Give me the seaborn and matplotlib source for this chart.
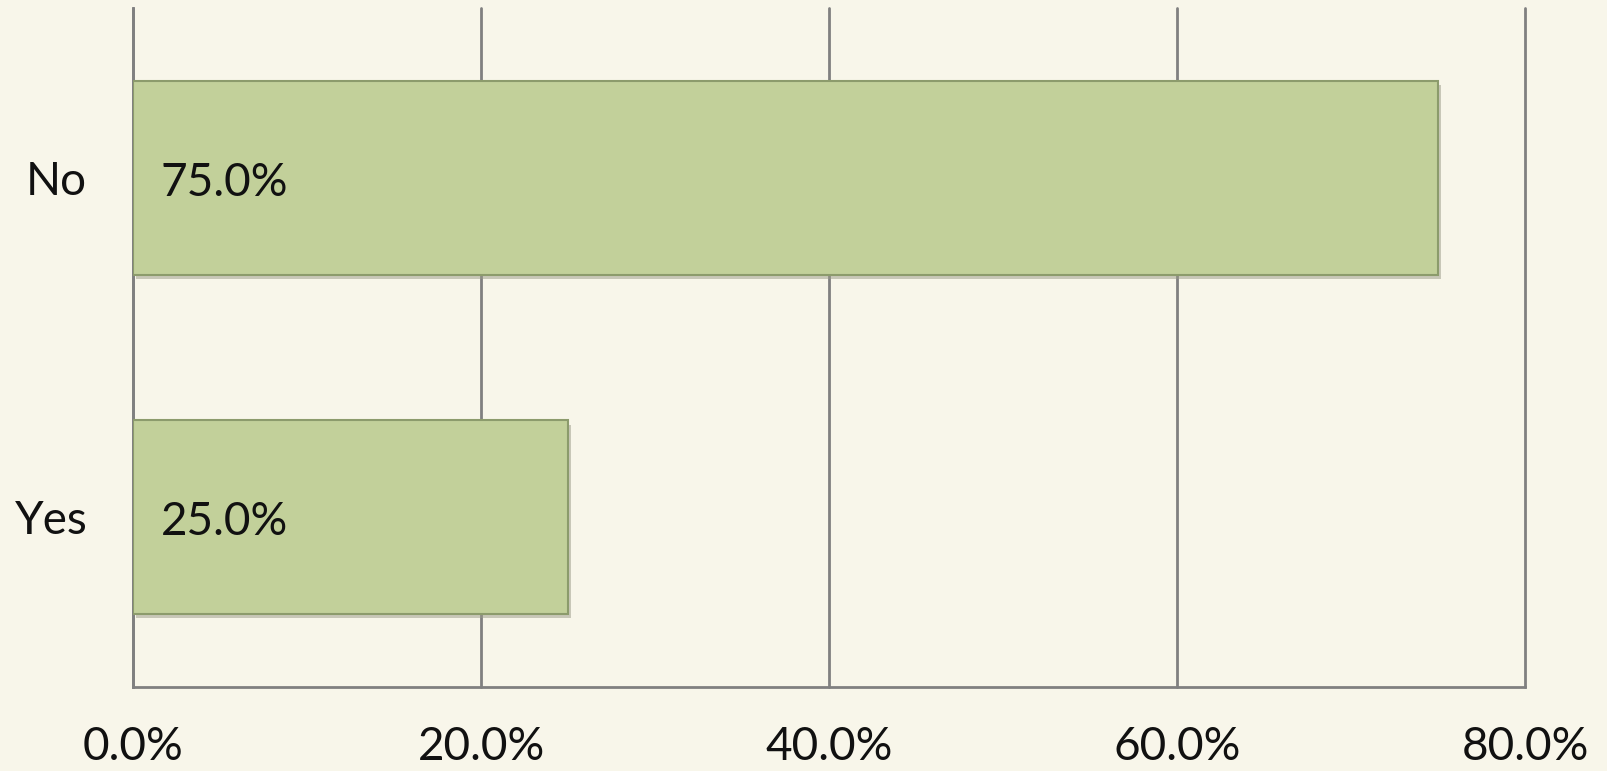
import numpy as np
import pandas as pd
import seaborn as sns
import matplotlib.pyplot as plt
import matplotlib.patheffects as pe
from matplotlib.ticker import PercentFormatter

# Survey answers and share of respondents (%)
answers = ["No", "Yes"]
shares = [75.0, 25.0]
x_ticks = [0, 20, 40, 60, 80]

bg = "#F8F6EA"
bar_color = "#C2D09A"
edge_color = "#8C9B6C"
grid_color = "#808080"

df = pd.DataFrame({"answer": answers, "share": shares})

sns.set_style("white")
plt.rcParams["font.family"] = ["Lato", "DejaVu Sans"]

fig = plt.figure(figsize=(16.07, 7.71), dpi=100, facecolor=bg)
ax = fig.add_axes([0.0828, 0.109, 0.8662, 0.8806])
ax.set_facecolor(bg)

sns.barplot(data=df, x="share", y="answer", orient="h", color=bar_color,
            width=0.57, edgecolor=edge_color, linewidth=1.5, saturation=1, ax=ax, zorder=3)

for patch in ax.patches:
    patch.set_path_effects([pe.SimplePatchShadow(offset=(2, -3), shadow_rgbFace="#9A9A88", alpha=0.5),
                            pe.Normal()])

for patch, val in zip(ax.patches, shares):
    ax.text(1.6, patch.get_y() + patch.get_height() / 2 + 0.015, f"{val:.1f}%",
            va="center", ha="left", fontsize=33, color="#111111", zorder=4)

ax.set_xlim(0, 80)
ax.set_ylim(1.5, -0.5)
ax.set_xticks(x_ticks)
ax.xaxis.set_major_formatter(PercentFormatter(decimals=1))
ax.grid(axis="x", color=grid_color, linewidth=2, zorder=0)
for gl in ax.get_xgridlines():
    gl.set_clip_on(False)
ax.grid(axis="y", visible=False)
for s in ["top", "right"]:
    ax.spines[s].set_visible(False)
for s in ["left", "bottom"]:
    ax.spines[s].set_color(grid_color)
    ax.spines[s].set_linewidth(2)
ax.tick_params(axis="x", length=0, pad=28, labelsize=33, labelcolor="#111111")
ax.tick_params(axis="y", length=0, pad=33, labelsize=33, labelcolor="#111111")
ax.set_xlabel("")
ax.set_ylabel("")

fig.savefig("out.png", dpi=100, facecolor=bg)
